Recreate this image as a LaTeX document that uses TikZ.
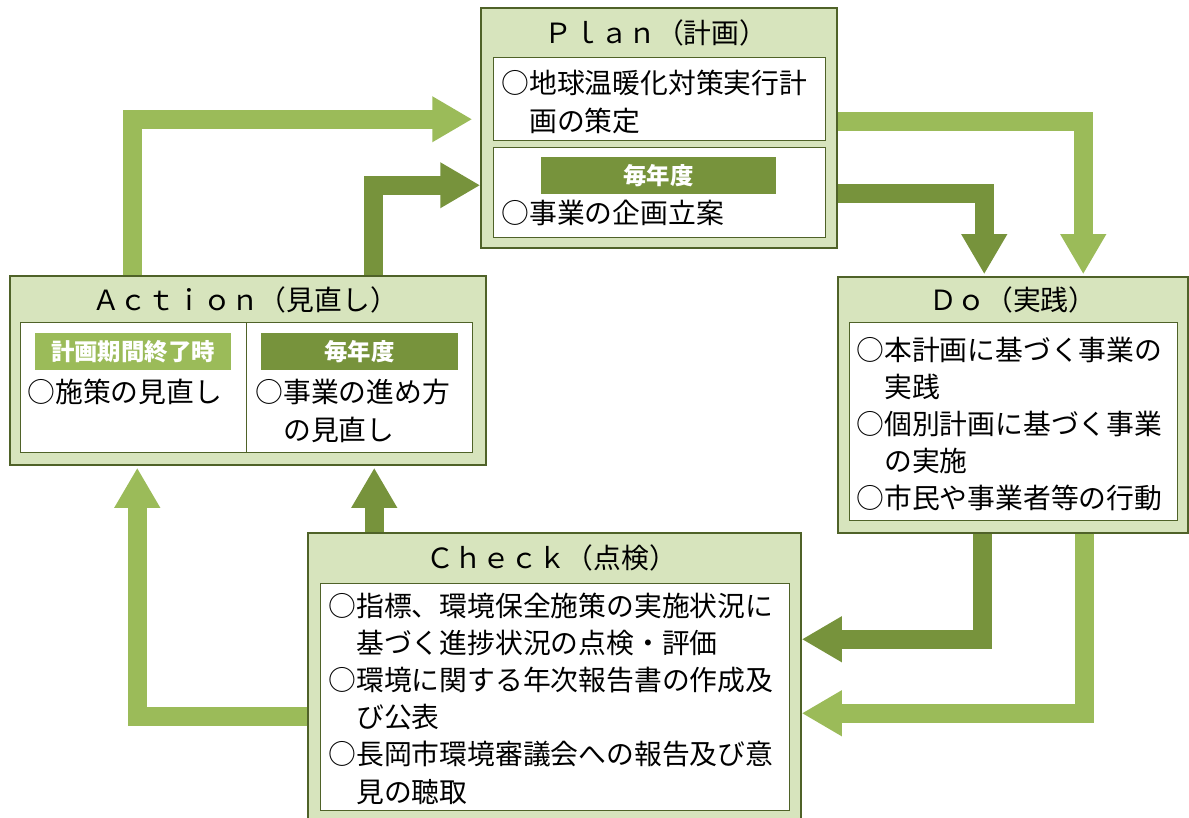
\documentclass[tikz,border=0pt]{standalone}
\usepackage{fontspec}
\setmainfont{Noto Sans CJK JP}
\usepackage{tikz}
\usetikzlibrary{calc,positioning,fit,arrows.meta}
\definecolor{boxfill}{HTML}{D7E4BD}
\definecolor{boxline}{HTML}{4F6228}
\definecolor{arrlight}{HTML}{9BBB59}
\definecolor{arrdark}{HTML}{77933C}

\begin{document}
\begin{tikzpicture}[x=0.5pt, y=-0.5pt,
  obox/.style={draw=boxline, fill=boxfill, line width=0.75pt, inner sep=0pt},
  ibox/.style={draw=boxline, fill=white, line width=0.5pt, inner sep=0pt},
  ttl/.style={inner sep=0pt, font=\fontsize{13.9pt}{18.6pt}\selectfont},
  txt/.style={anchor=west, align=left, inner sep=0pt, font=\fontsize{13.9pt}{18.6pt}\selectfont},
  tagL/.style={fill=arrlight, inner sep=0pt, minimum height=18.5pt, text=white, font=\bfseries\fontsize{11.7pt}{13pt}\selectfont},
  tagD/.style={tagL, fill=arrdark},
  lgarr/.style={draw=arrlight, line width=9.5pt, -{Triangle[length=20pt, width=21.5pt]}},
  dgarr/.style={lgarr, draw=arrdark}]
\useasboundingbox (0,0) rectangle (1189,818);

% Plan
\node[obox, fit={(481,8) (837,248)}] (plan) {};
\node[ttl] (plant) at (656,33) {Ｐｌａｎ（計画）};
\node[ibox, fit={(493,58) (825,141)}] (pin1) {};
\node[txt] (ptx1) at (501,102) {○地球温暖化対策実行計\\　画の策定};
\node[ibox, fit={(493,148) (825,238)}] (pin2) {};
\node[tagD, minimum width=117.5pt] (ptag) at (658.5,175.5) {毎年度};
\node[txt] (ptx2) at (501,213) {○事業の企画立案};

% Action
\node[obox, fit={(10,276) (486,465)}] (act) {};
\node[ttl] (actt) at (245,300) {Ａｃｔｉｏｎ（見直し）};
\node[ibox, fit={(20,323) (246,452)}] (acl) {};
\node[ibox, fit={(246,323) (472,452)}] (acr) {};
\node[tagL, minimum width=98pt] (atag1) at (133,351.5) {計画期間終了時};
\node[tagD, minimum width=98.5pt] (atag2) at (359.5,351.5) {毎年度};
\node[txt] (atx1) at (27,392) {○施策の見直し};
\node[txt] (atx2) at (255,411) {○事業の進め方\\　の見直し};

% Do
\node[obox, fit={(838,277) (1188,533)}] (do) {};
\node[ttl] (dot) at (1013,300) {Ｄｏ（実践）};
\node[ibox, fit={(849,323) (1177,520)}] (din) {};
\node[txt] (dtx) at (856,424) {○本計画に基づく事業の\\　実践\\○個別計画に基づく事業\\　の実施\\○市民や事業者等の行動};

% Check
\node[obox, fit={(308,533) (801,840)}] (chk) {};
\node[ttl] (chkt) at (552,558) {Ｃｈｅｃｋ（点検）};
\node[ibox, fit={(320,583) (789,810)}] (cin) {};
\node[txt] (ctx) at (328,698.5) {○指標、環境保全施策の実施状況に\\　基づく進捗状況の点検・評価\\○環境に関する年次報告書の作成及\\　び公表\\○長岡市環境審議会への報告及び意\\　見の聴取};

\draw[lgarr] ($(act.north west)+(123,0)$) |- ($(plan.north west)+(-8,112)$);
\draw[dgarr] ($(act.north west)+(364,0)$) |- ($(plan.north west)+(0,178)$);
\draw[lgarr] ($(plan.north east)+(0,114)$) -| ($(do.north west)+(246,-2)$);
\draw[dgarr] ($(plan.north east)+(0,186)$) -| ($(do.north west)+(147,-2)$);
\draw[dgarr] ($(do.south west)+(145,0)$) |- ($(chk.north east)+(0,107)$);
\draw[lgarr] ($(do.south west)+(247,0)$) |- ($(chk.north east)+(0,181)$);
\draw[lgarr] ($(chk.north west)+(0,184)$) -| ($(act.south west)+(128,2)$);
\draw[dgarr] ($(chk.north west)+(67,0)$) -- ($(act.south west)+(365,2)$);
\end{tikzpicture}
\end{document}
